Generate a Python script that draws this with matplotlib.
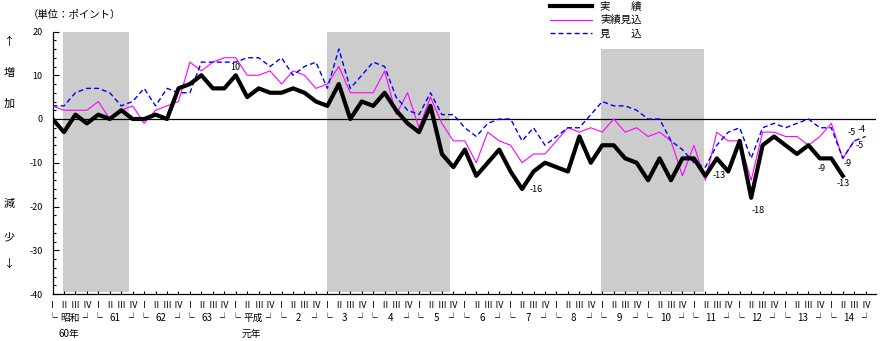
import numpy as np
import matplotlib
matplotlib.use("Agg")
import matplotlib.pyplot as plt

plt.rcParams['font.family'] = ['Noto Sans CJK JP', 'DejaVu Sans']
plt.rcParams['axes.unicode_minus'] = False

# -------------------------
# Data: quarterly DI (points), 昭和60年Ⅰ期 .. 平成14年Ⅳ期
# -------------------------
years = ['昭和', '61', '62', '63', '平成', '2', '3', '4', '5', '6',
         '7', '8', '9', '10', '11', '12', '13', '14']
year_notes = {0: '60年', 4: '元年'}
quarters = ['Ⅰ', 'Ⅱ', 'Ⅲ', 'Ⅳ']

# 実績 (actual)
jisseki = [0, -3, 1, -1, 1, 0, 2, 0, 0, 1,
           0, 7, 8, 10, 7, 7, 10, 5, 7, 6,
           6, 7, 6, 4, 3, 8, 0, 4, 3, 6,
           2, -1, -3, 3, -8, -11, -7, -13, -10, -7,
           -12, -16, -12, -10, -11, -12, -4, -10, -6, -6,
           -9, -10, -14, -9, -14, -9, -9, -13, -9, -12,
           -5, -18, -6, -4, -6, -8, -6, -9, -9, -13]

# 実績見込 (estimate)
jisseki_mikomi = [3, 2, 2, 2, 4, 0, 2, 3, -1, 2,
                  3, 4, 13, 11, 13, 14, 14, 10, 10, 11,
                  8, 11, 10, 7, 8, 12, 6, 6, 6, 11,
                  1, 6, -2, 5, -1, -5, -5, -10, -3, -5,
                  -6, -10, -8, -8, -5, -2, -3, -2, -3, 0,
                  -3, -2, -4, -3, -5, -13, -6, -14, -3, -5,
                  -5, -14, -3, -3, -4, -4, -6, -4, -1, -9,
                  -5]

# 見込 (forecast)
mikomi = [3, 3, 6, 7, 7, 6, 3, 4, 7, 3,
          7, 6, 6, 13, 13, 13, 13, 14, 14, 12,
          14, 10, 12, 13, 7, 16, 7, 10, 13, 12,
          5, 2, 1, 6, 1, 1, -2, -4, -1, 0,
          0, -5, -2, -6, -4, -2, -2, 1, 4, 3,
          3, 2, 0, 0, -5, -7, -10, -11, -6, -3,
          -2, -9, -2, -1, -2, -1, 0, -2, -2, -9,
          -5, -4]

# recession periods (quarter index start, end, top of band)
recessions = [(0.96, 6.7, 20), (24.0, 34.7, 20), (47.9, 56.9, 16)]

# -------------------------
# Figure
# -------------------------
W, H = 881, 341
fig = plt.figure(figsize=(W / 100, H / 100), dpi=100)
ax = fig.add_axes([52.5 / W, 1 - 294 / H, (876 - 52.5) / W, (294 - 31.5) / H])

for a, b, top in recessions:
    ax.fill_between([a, b], -39.5, top, color='#cccccc', lw=0, zorder=0)

ax.axhline(0, color='black', lw=0.9, zorder=1)

x_b = np.arange(len(jisseki))
x_p = np.arange(len(jisseki_mikomi))
x_m = np.arange(len(mikomi))

l1, = ax.plot(x_b, jisseki, color='black', lw=3.0, solid_joinstyle='round',
              label='実　　績', zorder=4)
l2, = ax.plot(x_p, jisseki_mikomi, color='#ff00ff', lw=0.8,
              label='実績見込', zorder=3)
l3, = ax.plot(x_m, mikomi, color='#0000ff', lw=1.0, dashes=(3.6, 2.2),
              label='見　　込', zorder=3)

# value labels
def label(series, i, dx, dy):
    ax.annotate(f"{series[i]:g}", xy=(i, series[i]), xytext=(dx, dy),
                textcoords='offset pixels', ha='center', va='center',
                fontsize=6.5, zorder=5)

label(jisseki, 16, 0, 8)
label(jisseki, 41, 14, -1)
label(jisseki, 57, 14, 0)
label(jisseki, 61, 7, -13)
label(jisseki, 67, 2, -10)
label(jisseki, 69, 0, -8)
label(jisseki_mikomi, 69, 5, -5)
label(jisseki_mikomi, 70, 5, -5)
label(mikomi, 70, -3, 8)
label(mikomi, 71, -4, 7)

# axes
ax.set_xlim(0, 71.9)
ax.set_ylim(-40, 20)
ax.set_yticks(range(-40, 21, 10))
ax.set_yticks(range(-40, 21, 2), minor=True)
ax.tick_params(axis='y', which='major', direction='in', length=4, width=0.8,
               labelsize=6.5, pad=7)
ax.tick_params(axis='y', which='minor', direction='in', length=2, width=0.8)

ax.set_xticks(np.arange(len(years) * 4))
ax.set_xticklabels(quarters * len(years))
ax.tick_params(axis='x', direction='in', length=2.5, width=0.8,
               labelsize=6.5, pad=5)

for s in ['top', 'right']:
    ax.spines[s].set_visible(False)
for s in ['left', 'bottom']:
    ax.spines[s].set_linewidth(0.9)

# year brackets under the quarter labels
trans = ax.get_xaxis_transform()
for k, yr in enumerate(years):
    q1 = 4 * k
    ax.annotate('└', xy=(q1 - 0.05, 0), xycoords=trans, xytext=(0, -24),
                textcoords='offset pixels', ha='center', va='center', fontsize=7)
    ax.annotate('┘', xy=(q1 + 3.0, 0), xycoords=trans, xytext=(0, -24),
                textcoords='offset pixels', ha='center', va='center', fontsize=7)
    ax.annotate(yr, xy=(q1 + 1.5, 0), xycoords=trans, xytext=(0, -24),
                textcoords='offset pixels', ha='center', va='center', fontsize=7)
    if k in year_notes:
        ax.annotate(year_notes[k], xy=(q1 + 1.4, 0), xycoords=trans,
                    xytext=(0, -40), textcoords='offset pixels',
                    ha='center', va='center', fontsize=7)

# side captions
for txt, y in [('↑', 42), ('増', 73), ('加', 104), ('減', 204), ('少', 237), ('↓', 264)]:
    fig.text(9 / W, 1 - y / H, txt, ha='center', va='center', fontsize=8)
fig.text(74 / W, 1 - 15 / H, '（単位：ポイント）', ha='center', va='center', fontsize=7.5)

ax.legend(handles=[l1, l2, l3], loc='upper left',
          bbox_to_anchor=(550 / W, 1 - 2 / H), bbox_transform=fig.transFigure,
          frameon=False, fontsize=7.5, handlelength=4.0, handletextpad=0.8,
          labelspacing=0.3, borderpad=0, borderaxespad=0)

fig.savefig('out.png', dpi=100)
